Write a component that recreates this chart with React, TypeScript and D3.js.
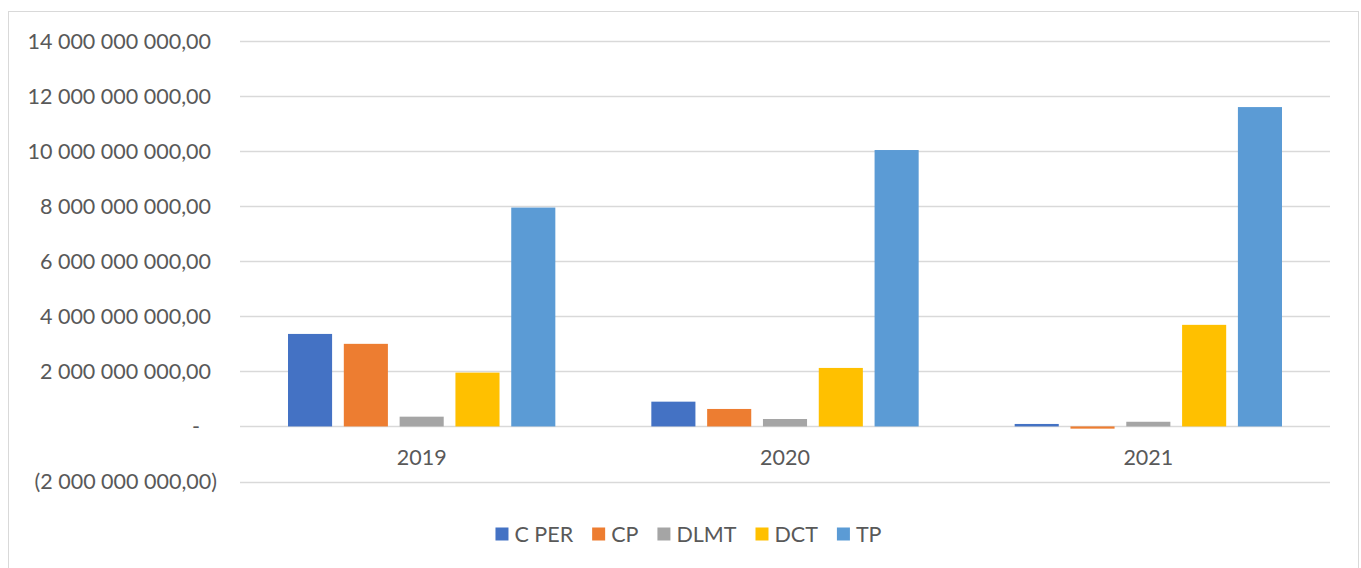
import React, { useEffect, useRef } from "react";
import * as d3 from "d3";

const categories = ["2019", "2020", "2021"];
const seriesNames = ["C PER", "CP", "DLMT", "DCT", "TP"];
const cPer = [3.36e9, 0.9e9, 0.09e9];
const cp = [3.0e9, 0.635e9, -0.08e9];
const dlmt = [0.355e9, 0.27e9, 0.17e9];
const dct = [1.955e9, 2.125e9, 3.69e9];
const tp = [7.95e9, 10.04e9, 11.6e9];
const seriesValues = [cPer, cp, dlmt, dct, tp];
const yTicks = [-2e9, 0, 2e9, 4e9, 6e9, 8e9, 10e9, 12e9, 14e9];
const colors = ["#4472C4", "#ED7D31", "#A5A5A5", "#FFC000", "#5B9BD5"];

const W = 1361;
const H = 568;
const FONT = "Lato, 'Open Sans', sans-serif";
const TEXT = "#595959";
const FS = 21.5;

const loc = d3.formatLocale({ decimal: ",", thousands: "\u00a0", grouping: [3], currency: ["", ""] });
const fmt = loc.format(",.2f");
const tickLabel = (v: number) => (v === 0 ? "-" : v < 0 ? `(${fmt(-v)})` : fmt(v));

export default function App() {
  const ref = useRef<SVGSVGElement>(null);
  useEffect(() => {
    const svg = d3.select(ref.current);
    svg.selectAll("*").remove();

    const y = d3.scaleLinear().domain([-2e9, 14e9]).range([481.5, 41]);
    const x = d3.scaleBand<string>().domain(categories).range([240, 1330]).paddingInner(0).paddingOuter(0);
    const bw = x.bandwidth();
    const inner = d3.scaleBand<string>().domain(seriesNames).range([48, bw - 48]).paddingInner(0.21).paddingOuter(0);

    svg.append("rect").attr("x", 8.5).attr("y", 11.5).attr("width", 1350).attr("height", 600)
      .attr("fill", "#fff").attr("stroke", "#D9D9D9").attr("stroke-width", 1);

    svg.append("g").selectAll("line").data(yTicks).join("line")
      .attr("x1", 240).attr("x2", 1330)
      .attr("y1", (d) => Math.round(y(d)) + 0.5).attr("y2", (d) => Math.round(y(d)) + 0.5)
      .attr("stroke", "#D9D9D9").attr("stroke-width", 1.5);

    svg.append("g").selectAll("text").data(yTicks).join("text")
      .attr("x", (d) => (d < 0 ? 217 : d === 0 ? 200 : 211))
      .attr("y", (d) => y(d) + 7.5)
      .attr("text-anchor", "end")
      .attr("font-family", FONT).attr("font-size", FS).attr("fill", TEXT)
      .text((d) => tickLabel(d));

    seriesNames.forEach((s, si) => {
      svg.append("g").selectAll("rect").data(seriesValues[si]).join("rect")
        .attr("x", (_d, i) => (x(categories[i]) as number) + (inner(s) as number))
        .attr("width", inner.bandwidth())
        .attr("y", (d) => y(Math.max(0, d)))
        .attr("height", (d) => Math.abs(y(d) - y(0)))
        .attr("fill", colors[si]);
    });

    svg.append("g").selectAll("text").data(categories).join("text")
      .attr("x", (d) => (x(d) as number) + bw / 2)
      .attr("y", 465)
      .attr("text-anchor", "middle")
      .attr("font-family", FONT).attr("font-size", FS).attr("fill", TEXT)
      .text((d) => d);

    const lg = svg.append("g");
    const items = seriesNames.map((s, i) => {
      const g = lg.append("g");
      g.append("rect").attr("x", 0).attr("y", 527.5).attr("width", 13).attr("height", 13).attr("fill", colors[i]);
      const t = g.append("text").attr("x", 19).attr("y", 541.5)
        .attr("font-family", FONT).attr("font-size", FS).attr("fill", TEXT).text(s);
      const w = (t.node() as SVGTextElement).getComputedTextLength();
      return { g, w: 19 + w };
    });
    const gap = 19;
    const total = d3.sum(items, (d) => d.w) + gap * (items.length - 1);
    let cx = 688.5 - total / 2;
    items.forEach((it) => {
      it.g.attr("transform", `translate(${cx},0)`);
      cx += it.w + gap;
    });
  }, []);
  return (
    <svg ref={ref} width={W} height={H} style={{ position: "absolute", left: 0, top: 0, background: "#fff" }} />
  );
}
